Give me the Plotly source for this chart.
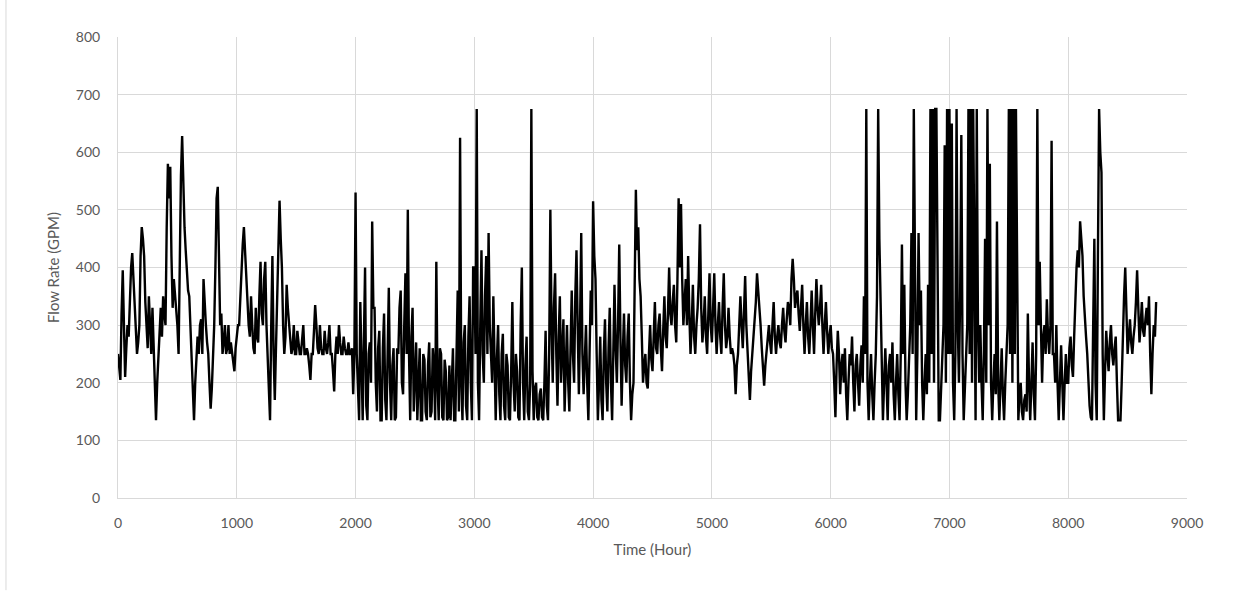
import plotly.graph_objects as go

HOUR_STEP = 10
flow_0000 = [250, 220, 205, 320, 395, 300, 210, 260, 300, 280,
             350, 400, 425, 380, 330, 280, 250, 270, 300, 420,
             470, 450, 420, 340, 300, 260, 350, 300, 250, 330,
             270, 220, 135, 200, 250, 300, 330, 280, 350, 320,
             300, 470, 580, 520, 575, 420, 330, 380, 350, 320,
             300, 250, 450, 560, 628, 540, 470, 430, 400, 360,
             350, 300, 250, 180, 135, 200, 250, 280, 250, 300,
             310, 250, 380, 330, 300, 270, 250, 200, 155, 190,
             250, 300, 400, 520, 540, 420, 300, 320, 250, 270,
             300, 250, 260, 300, 250, 270, 250, 230, 220, 260]
flow_1000 = [280, 300, 300, 350, 420, 440, 470, 430, 380, 330,
             300, 280, 350, 300, 260, 250, 330, 280, 270, 350,
             410, 320, 300, 380, 410, 300, 250, 200, 135, 300,
             420, 250, 170, 260, 350, 480, 516, 450, 400, 300,
             250, 280, 370, 330, 300, 270, 250, 260, 300, 250,
             250, 290, 270, 250, 250, 280, 300, 250, 250, 260,
             250, 230, 205, 250, 250, 290, 335, 300, 260, 250,
             300, 260, 250, 250, 290, 260, 250, 270, 300, 250,
             250, 220, 185, 250, 280, 250, 300, 270, 250, 250,
             280, 260, 250, 250, 270, 250, 250, 260, 180, 250]
flow_2000 = [530, 250, 200, 135, 340, 250, 135, 270, 400, 160,
             135, 250, 270, 200, 480, 330, 330, 200, 150, 260,
             290, 135, 135, 260, 320, 170, 135, 250, 365, 200,
             135, 230, 260, 135, 140, 260, 250, 330, 360, 200,
             180, 300, 390, 250, 500, 250, 135, 280, 330, 150,
             220, 270, 135, 200, 260, 135, 135, 250, 240, 150,
             135, 230, 270, 140, 150, 260, 230, 135, 410, 200,
             135, 260, 250, 140, 135, 240, 220, 135, 140, 230,
             135, 200, 260, 135, 135, 250, 360, 150, 625, 200,
             135, 270, 300, 160, 135, 280, 350, 200, 135, 400]
flow_3000 = [400, 250, 675, 200, 135, 300, 430, 250, 200, 350,
             420, 250, 460, 300, 250, 200, 350, 250, 135, 240,
             300, 180, 135, 250, 285, 160, 135, 250, 230, 140,
             135, 220, 340, 200, 150, 250, 220, 140, 135, 300,
             400, 200, 135, 230, 280, 150, 135, 200, 675, 220,
             135, 190, 200, 140, 135, 180, 190, 140, 135, 200,
             290, 160, 135, 250, 500, 300, 200, 330, 390, 250,
             160, 280, 350, 200, 250, 310, 150, 220, 300, 200,
             150, 260, 360, 250, 200, 350, 430, 300, 180, 300,
             460, 250, 180, 240, 300, 200, 135, 250, 360, 300]
flow_4000 = [515, 420, 380, 250, 135, 200, 280, 170, 135, 250,
             310, 200, 150, 260, 330, 200, 135, 250, 370, 260,
             200, 300, 440, 280, 160, 250, 320, 230, 200, 280,
             320, 200, 135, 180, 200, 370, 535, 430, 470, 380,
             350, 280, 200, 230, 250, 200, 190, 250, 300, 240,
             220, 280, 340, 260, 250, 300, 320, 260, 220, 290,
             350, 280, 260, 320, 400, 320, 300, 340, 370, 300,
             270, 380, 520, 400, 510, 380, 300, 340, 380, 300,
             420, 320, 250, 300, 370, 280, 250, 300, 330, 380,
             475, 330, 270, 300, 350, 280, 250, 320, 390, 300]
flow_5000 = [270, 330, 390, 300, 250, 300, 340, 280, 250, 330,
             390, 300, 260, 280, 330, 280, 250, 260, 250, 230,
             180, 230, 250, 300, 350, 300, 260, 320, 385, 300,
             250, 220, 170, 220, 250, 280, 300, 340, 390, 360,
             340, 300, 260, 220, 195, 230, 250, 270, 300, 270,
             250, 300, 340, 280, 250, 280, 300, 270, 260, 300,
             330, 290, 270, 310, 340, 330, 300, 380, 415, 380,
             330, 350, 360, 320, 290, 330, 370, 300, 250, 300,
             340, 280, 250, 300, 360, 300, 250, 320, 380, 330,
             300, 330, 370, 300, 250, 300, 340, 290, 250, 280]
flow_6000 = [300, 260, 250, 200, 140, 230, 290, 250, 180, 230,
             250, 200, 260, 180, 135, 200, 250, 230, 280, 200,
             150, 230, 250, 200, 160, 230, 265, 200, 350, 250,
             675, 200, 135, 200, 250, 180, 135, 200, 250, 350,
             675, 450, 350, 200, 135, 200, 260, 200, 135, 230,
             250, 200, 270, 180, 135, 200, 250, 180, 135, 250,
             440, 250, 370, 200, 135, 180, 250, 300, 460, 250,
             675, 300, 135, 250, 460, 300, 360, 200, 135, 200,
             250, 180, 370, 200, 675, 250, 675, 200, 675, 675,
             300, 135, 135, 200, 250, 300, 612, 200, 675, 250]
flow_7000 = [675, 250, 650, 200, 135, 250, 675, 300, 200, 350,
             630, 250, 135, 200, 250, 300, 675, 250, 675, 200,
             675, 300, 135, 675, 300, 200, 300, 200, 135, 250,
             450, 200, 675, 300, 580, 200, 135, 200, 250, 180,
             480, 200, 135, 200, 260, 180, 135, 200, 250, 300,
             675, 250, 675, 200, 675, 250, 675, 300, 135, 180,
             200, 150, 135, 170, 180, 150, 320, 200, 135, 200,
             270, 180, 135, 250, 675, 300, 410, 300, 200, 280,
             300, 250, 345, 280, 250, 300, 620, 250, 250, 200,
             300, 200, 135, 200, 265, 200, 135, 200, 250, 200]
flow_8000 = [200, 260, 280, 230, 210, 280, 350, 400, 430, 400,
             480, 450, 420, 350, 300, 280, 250, 200, 160, 140,
             135, 300, 450, 200, 135, 420, 675, 600, 565, 250,
             135, 220, 290, 250, 220, 270, 300, 250, 230, 260,
             280, 200, 135, 135, 135, 200, 300, 350, 400, 300,
             250, 280, 310, 270, 250, 280, 300, 340, 395, 330,
             270, 300, 340, 290, 280, 310, 330, 300, 350, 250,
             180, 250, 300, 280, 340]

x_ticks = [0, 1000, 2000, 3000, 4000, 5000, 6000, 7000, 8000, 9000]
y_ticks = [0, 100, 200, 300, 400, 500, 600, 700, 800]

flow = (flow_0000 + flow_1000 + flow_2000 + flow_3000 + flow_4000
        + flow_5000 + flow_6000 + flow_7000 + flow_8000)
hours = [i * HOUR_STEP for i in range(len(flow))]

FONT = "Lato, 'Open Sans', sans-serif"
GRID = "#d9d9d9"
TXT = "#595959"

fig = go.Figure()
fig.add_trace(go.Scatter(x=hours, y=flow, mode="lines",
                         line=dict(color="black", width=2.4), showlegend=False))

fig.update_layout(
    width=1233, height=597,
    margin=dict(l=118, r=46, t=37, b=99),
    paper_bgcolor="white", plot_bgcolor="white",
    font=dict(family=FONT, size=14, color=TXT),
    xaxis=dict(range=[0, 9000], tickvals=x_ticks, showgrid=True, gridcolor=GRID,
               gridwidth=1, zeroline=False, showline=True, linecolor=GRID,
               ticks="outside", ticklen=12, tickcolor="rgba(0,0,0,0)",
               tickfont=dict(size=14, color=TXT),
               title=dict(text="Time (Hour)", font=dict(size=15, color=TXT), standoff=14)),
    yaxis=dict(range=[0, 800], tickvals=y_ticks, showgrid=True, gridcolor=GRID,
               gridwidth=1, zeroline=False, showline=True, linecolor=GRID,
               ticks="outside", ticklen=14, tickcolor="rgba(0,0,0,0)",
               tickfont=dict(size=14, color=TXT),
               title=dict(text="Flow Rate (GPM)", font=dict(size=15, color=TXT), standoff=12)),
    shapes=[dict(type="line", xref="paper", yref="paper", x0=-0.1048, x1=-0.1048,
                 y0=-0.2, y1=1.09, line=dict(color=GRID, width=1))],
)

fig.write_html("out.html")
